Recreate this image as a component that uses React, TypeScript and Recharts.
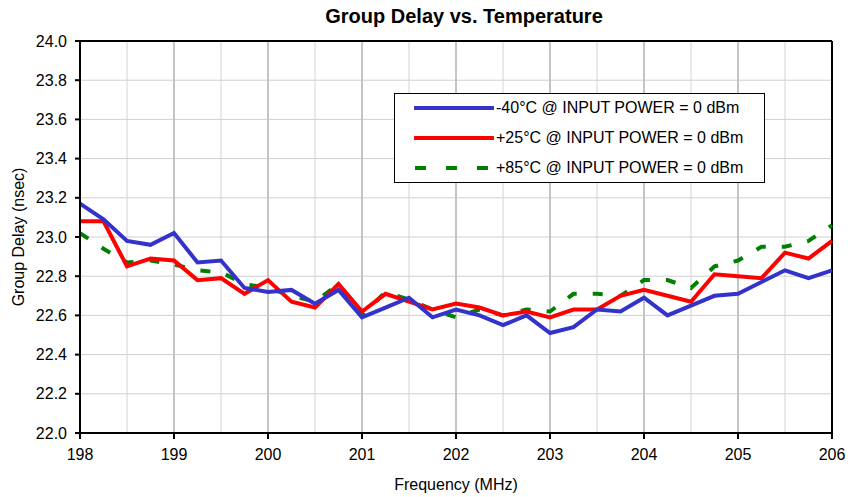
import React from 'react';
import { LineChart, Line, XAxis, YAxis, CartesianGrid, ReferenceLine } from 'recharts';

const freqs = [198, 198.25, 198.5, 198.75, 199, 199.25, 199.5, 199.75, 200, 200.25, 200.5, 200.75, 201, 201.25, 201.5, 201.75, 202, 202.25, 202.5, 202.75, 203, 203.25, 203.5, 203.75, 204, 204.25, 204.5, 204.75, 205, 205.25, 205.5, 205.75, 206];
const minus40 = [23.17, 23.09, 22.98, 22.96, 23.02, 22.87, 22.88, 22.74, 22.72, 22.73, 22.66, 22.73, 22.59, 22.64, 22.69, 22.59, 22.63, 22.60, 22.55, 22.60, 22.51, 22.54, 22.63, 22.62, 22.69, 22.60, 22.65, 22.70, 22.71, 22.77, 22.83, 22.79, 22.83];
const plus25 = [23.08, 23.08, 22.85, 22.89, 22.88, 22.78, 22.79, 22.71, 22.78, 22.67, 22.64, 22.76, 22.62, 22.71, 22.67, 22.63, 22.66, 22.64, 22.60, 22.62, 22.59, 22.63, 22.63, 22.70, 22.73, 22.70, 22.67, 22.81, 22.80, 22.79, 22.92, 22.89, 22.98];
const plus85 = [23.02, 22.94, 22.87, 22.88, 22.86, 22.83, 22.82, 22.76, 22.74, 22.70, 22.67, 22.76, 22.60, 22.72, 22.68, 22.63, 22.59, 22.63, 22.60, 22.63, 22.62, 22.71, 22.71, 22.70, 22.78, 22.78, 22.74, 22.85, 22.88, 22.95, 22.95, 22.98, 23.06];

const xTicks = [198, 199, 200, 201, 202, 203, 204, 205, 206];
const xHalfTicks = [198.5, 199.5, 200.5, 201.5, 202.5, 203.5, 204.5, 205.5];
const yTicks = [22.0, 22.2, 22.4, 22.6, 22.8, 23.0, 23.2, 23.4, 23.6, 23.8, 24.0];

const seriesNames = ['-40°C @ INPUT POWER = 0 dBm', '+25°C @ INPUT POWER = 0 dBm', '+85°C @ INPUT POWER = 0 dBm'];
const seriesColors = ['#3333cc', '#ff0000', '#008000'];
const seriesDash = [undefined, undefined, '10 16'];

const data = freqs.map((f, i) => ({ f, a: minus40[i], b: plus25[i], c: plus85[i] }));

const FONT = '"Liberation Sans", Arial, sans-serif';

export default function App() {
  return (
    <div style={{ position: 'absolute', left: 0, top: 0, width: 848, height: 497, background: '#fff', fontFamily: FONT }}>
      <div style={{ position: 'absolute', left: 80, top: 5, width: 768, textAlign: 'center', fontSize: 20, fontWeight: 'bold', fontFamily: FONT, color: '#000' }}>
        Group Delay vs. Temperature
      </div>
      <LineChart width={848} height={497} data={data} margin={{ top: 41, right: 16, bottom: 0, left: 0 }} style={{ fontFamily: FONT }}>
        <CartesianGrid horizontal={true} vertical={false} stroke="#d0d0d0" strokeWidth={1} />
        <CartesianGrid horizontal={false} vertical={true} stroke="#c4c4c4" strokeWidth={2} />
        {xHalfTicks.map((v) => (
          <ReferenceLine key={v} x={v} stroke="#d4d4d4" strokeWidth={1} />
        ))}
        <XAxis
          dataKey="f"
          type="number"
          domain={[198, 206]}
          ticks={xTicks}
          interval={0}
          height={64}
          axisLine={{ stroke: '#000', strokeWidth: 2 }}
          tickLine={{ stroke: '#000', strokeWidth: 2 }}
          tickSize={6}
          tickMargin={10}
          tick={{ fontSize: 16, fill: '#000', fontFamily: FONT }}
          label={{
            content: (props: any) => {
              const vb = props.viewBox || {};
              return (
                <text x={vb.x + vb.width / 2} y={vb.y + 57} textAnchor="middle" fontSize={16} fill="#000" fontFamily={FONT}>
                  Frequency (MHz)
                </text>
              );
            },
          }}
        />
        <YAxis
          type="number"
          domain={[22, 24]}
          ticks={yTicks}
          interval={0}
          width={80}
          allowDataOverflow
          axisLine={{ stroke: '#000', strokeWidth: 2 }}
          tickLine={{ stroke: '#000', strokeWidth: 2 }}
          tickSize={5}
          tickMargin={8}
          tickFormatter={(v: number) => v.toFixed(1)}
          tick={{ fontSize: 16, fill: '#000', fontFamily: FONT }}
          label={{
            content: (props: any) => {
              const vb = props.viewBox || {};
              const cx = 24;
              const cy = vb.y + vb.height / 2;
              return (
                <text x={cx} y={cy} textAnchor="middle" fontSize={16} fill="#000" fontFamily={FONT} transform={`rotate(-90, ${cx}, ${cy})`}>
                  Group Delay (nsec)
                </text>
              );
            },
          }}
        />
        <ReferenceLine y={24} stroke="#000" strokeWidth={2} />
        <ReferenceLine x={206} stroke="#000" strokeWidth={2} />
        <Line type="linear" dataKey="c" stroke={seriesColors[2]} strokeWidth={4} strokeDasharray={seriesDash[2]} dot={false} isAnimationActive={false} />
        <Line type="linear" dataKey="b" stroke={seriesColors[1]} strokeWidth={4} dot={false} isAnimationActive={false} />
        <Line type="linear" dataKey="a" stroke={seriesColors[0]} strokeWidth={4} dot={false} isAnimationActive={false} />
      </LineChart>
      <div style={{ position: 'absolute', left: 394, top: 93, width: 369, height: 88, border: '1px solid #000', background: '#fff' }}>
        {seriesNames.map((name, i) => (
          <div key={name} style={{ position: 'absolute', left: 0, top: 4 + i * 30, height: 20, width: 369, display: 'flex', alignItems: 'center' }}>
            <svg width={80} height={20} style={{ marginLeft: 19, flex: 'none' }}>
              <line x1={1} y1={10} x2={79} y2={10} stroke={seriesColors[i]} strokeWidth={4} strokeDasharray={i === 2 ? '11 20' : undefined} strokeLinecap={i === 2 ? 'butt' : 'round'} />
            </svg>
            <span style={{ fontSize: 16, fontFamily: FONT, color: '#000', marginLeft: 2, whiteSpace: 'nowrap' }}>{name}</span>
          </div>
        ))}
      </div>
    </div>
  );
}
